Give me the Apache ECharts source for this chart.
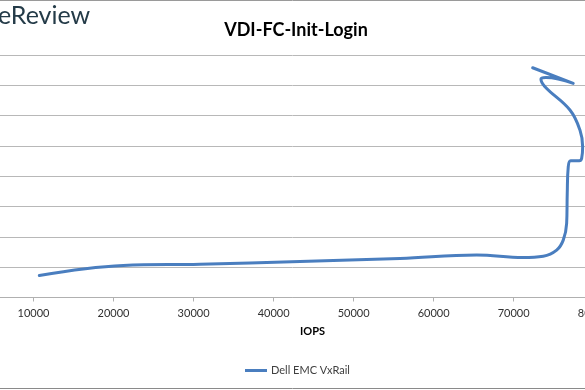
<!DOCTYPE html>
<html>
<head>
<meta charset="utf-8">
<script src="https://cdn.jsdelivr.net/npm/echarts@6/dist/echarts.min.js"></script>
<style>html,body{margin:0;padding:0;background:#fff}#c{width:585px;height:390px}</style>
</head>
<body>
<div id="c"></div>
<script>
const title = 'VDI-FC-Init-Login';
const seriesName = 'Dell EMC VxRail';
const xTitle = 'IOPS';
// IOPS values (x) in plotting order
const iops = [10721, 21217, 30800, 43295, 55790, 65374, 71159, 73695, 75370, 76195, 76619, 76694, 76819, 77119, 78194, 78494, 78619, 78282, 77032, 73908, 73408, 74033, 77444, 72371];
// latency values (y), gridline units
const latency = [0.726, 1.056, 1.099, 1.189, 1.288, 1.406, 1.321, 1.363, 1.562, 1.892, 2.443, 3.434, 4.312, 4.510, 4.510, 4.589, 4.972, 5.523, 6.184, 6.953, 7.207, 7.256, 7.065, 7.580];
const xTicks = [0, 10000, 20000, 30000, 40000, 50000, 60000, 70000, 80000];

const points = iops.map((x, i) => [x, latency[i]]);
const chart = echarts.init(document.getElementById('c'), null, {renderer: 'canvas'});
chart.setOption({
  animation: false,
  backgroundColor: '#ffffff',
  title: {
    text: title, left: 291, top: 16, textAlign: 'center',
    textStyle: {fontFamily: 'Lato', fontWeight: 'bold', fontSize: 18, color: '#000'}
  },
  graphic: [
    {type: 'text', left: -2, top: 3, style: {text: 'eReview', font: '25px Lato', fill: '#243b48'}},
    {type: 'line', shape: {x1: 0, y1: 0.5, x2: 585, y2: 0.5}, style: {stroke: '#9a9a9a', lineWidth: 1}},
    {type: 'line', shape: {x1: 0, y1: 388.5, x2: 585, y2: 388.5}, style: {stroke: '#8a8a8a', lineWidth: 1}},
    {type: 'text', left: 300, top: 326, style: {text: xTitle, font: 'bold 11px Lato', fill: '#000'}}
  ],
  legend: {
    data: [seriesName], left: 240, top: 360, icon: 'rect', itemWidth: 22, itemHeight: 3, itemGap: 4,
    textStyle: {fontFamily: 'Lato', fontSize: 11, color: '#404040', padding: [0,0,0,-1]}
  },
  grid: {left: -46.5, right: -8.7, top: 55, bottom: 92.5, outerBoundsMode: 'none', containLabel: false},
  xAxis: {
    type: 'value', min: xTicks[0], max: xTicks[xTicks.length - 1], interval: 10000,
    axisLine: {show: true, lineStyle: {color: '#b0b0b0', width: 1}},
    axisTick: {show: true, length: 4, lineStyle: {color: '#b0b0b0'}},
    axisLabel: {color: '#303030', fontFamily: 'Lato', fontSize: 11, margin: 10, formatter: v => String(v)},
    splitLine: {show: false}
  },
  yAxis: {
    type: 'value', min: 0, max: 8, interval: 1,
    axisLine: {show: false}, axisTick: {show: false}, axisLabel: {show: false},
    splitLine: {show: true, lineStyle: {color: '#b8b8b8', width: 1}}
  },
  series: [{
    name: seriesName, type: 'line', data: points, smooth: 0.4, symbol: 'none',
    lineStyle: {color: '#4a7ebf', width: 3, cap: 'round', join: 'round'},
    itemStyle: {color: '#4a7ebf'}
  }]
});
</script>
</body>
</html>
